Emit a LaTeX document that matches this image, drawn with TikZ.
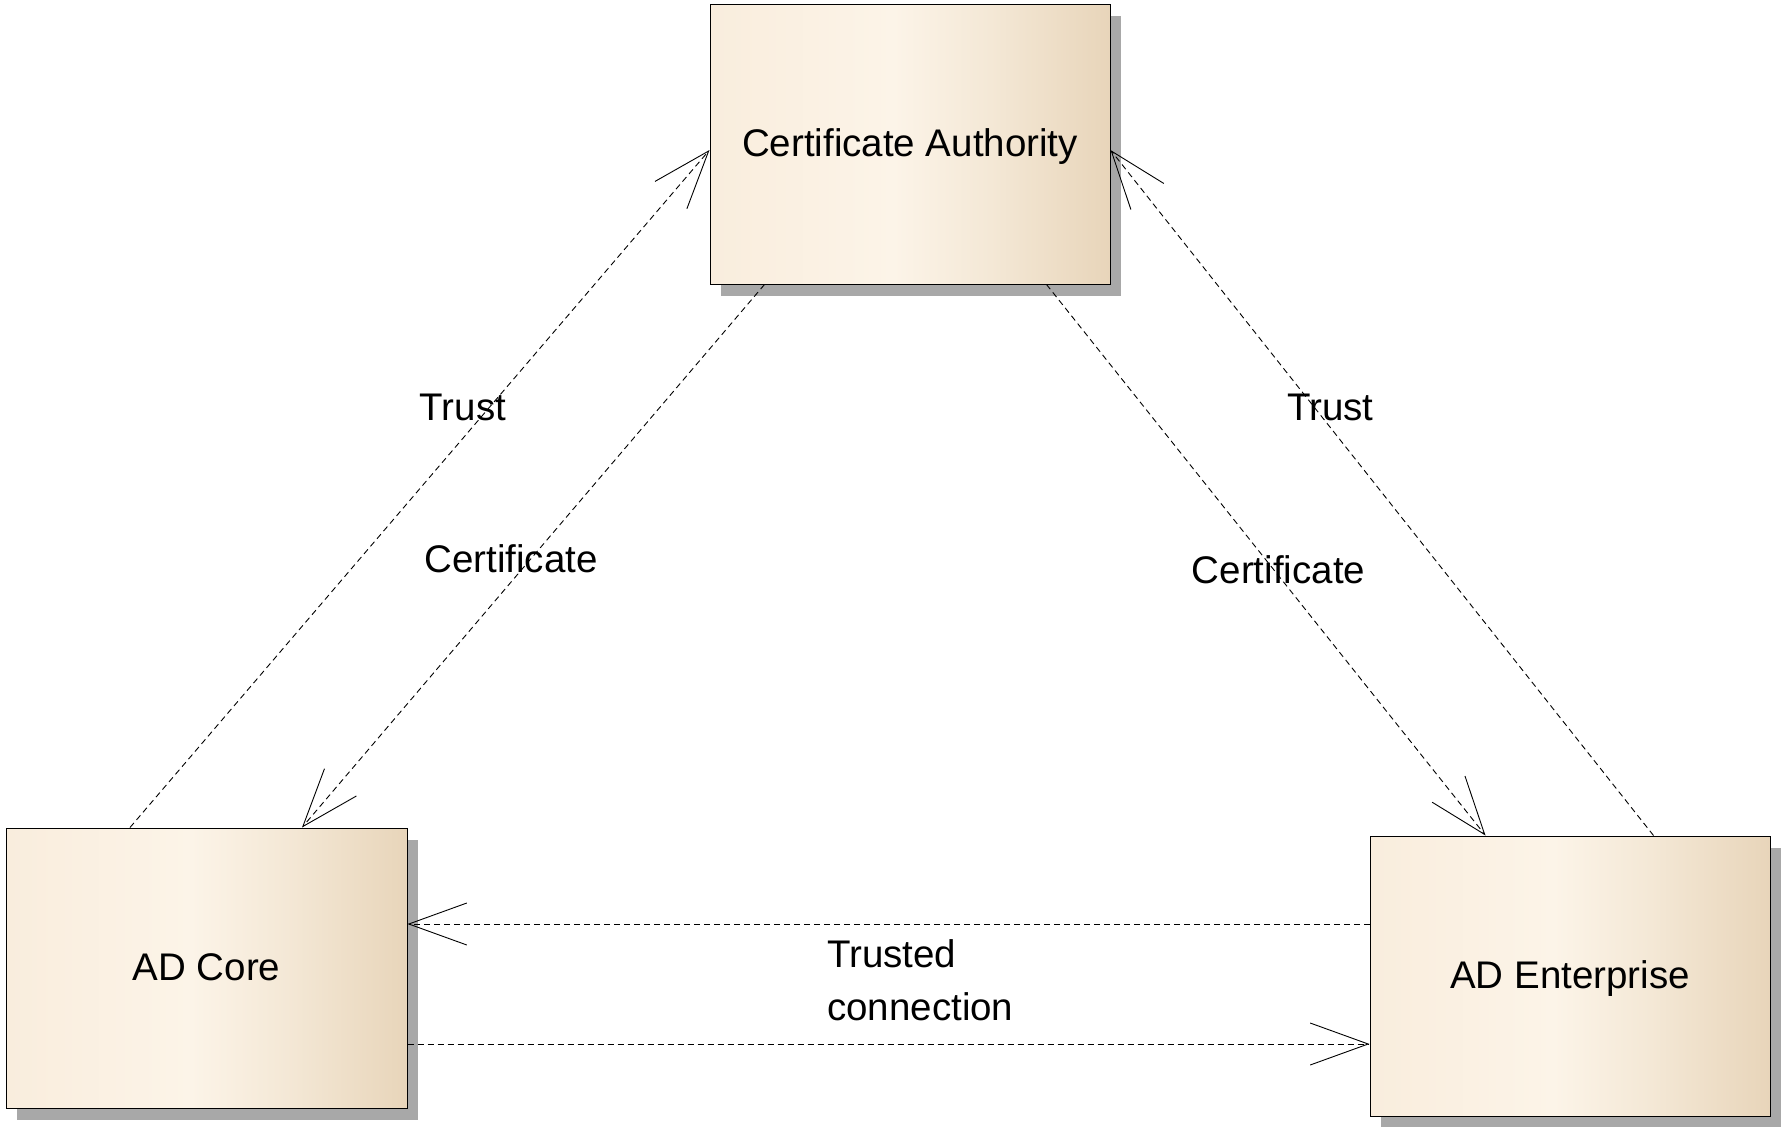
\documentclass[tikz,border=0pt]{standalone}
\usepackage{fontspec}
\setmainfont{Liberation Sans}
\usetikzlibrary{arrows.meta,shadows}
\definecolor{shadowgray}{RGB}{168,168,168}
\definecolor{bxa}{RGB}{249,237,221}
\definecolor{bxb}{RGB}{252,244,232}
\definecolor{bxc}{RGB}{244,232,214}
\definecolor{bxd}{RGB}{232,213,186}
\pgfdeclarehorizontalshading{boxshade}{100bp}{color(0bp)=(bxa); color(25bp)=(bxa); color(48bp)=(bxb); color(60bp)=(bxc); color(75bp)=(bxd); color(100bp)=(bxd)}
\begin{document}
\begin{tikzpicture}[x=1pt,y=-1pt,
  entity/.style={draw=black, line width=1pt, shade, shading=boxshade,
    inner sep=0pt, minimum width=400pt, minimum height=280pt,
    font=\fontsize{38.5}{45}\selectfont, text height=27pt, text depth=3pt,
    drop shadow={shadow xshift=11pt, shadow yshift=-12pt, fill=shadowgray, opacity=1}},
  conn/.style={draw=black, line width=0.9pt, dash pattern=on 6pt off 4pt,
    -{Straight Barb[length=58pt, width=42pt, line width=0.9pt]}},
  lbl/.style={font=\fontsize{38.5}{53}\selectfont, inner sep=0pt}]
\fill[white] (0,0) rectangle (1783,1127);
\useasboundingbox (0,0) rectangle (1783,1127);
\node[entity] (ca) at (910,144) {Certificate Authority};
\node[entity, minimum width=401pt] (core) at (206.5,968) {AD Core};
\node[entity] (ent) at (1570,976) {AD Enterprise};
% connectors
\draw[conn] ([xshift=124.5pt]core.north west) -- ([yshift=-6pt]ca.west);
\draw[conn] ([xshift=55pt]ca.south west) -- ([xshift=296.5pt]core.north west);
\draw[conn] ([xshift=-64pt]ca.south east) -- ([xshift=116pt]ent.north west);
\draw[conn] ([xshift=284pt]ent.north west) -- ([yshift=-6pt]ca.east);
\draw[conn] ([yshift=52pt]ent.west) -- ([yshift=44pt]core.east);
\draw[conn] ([yshift=-76pt]core.east) -- ([yshift=-68pt]ent.west);
% labels
\node[lbl, anchor=base] (t1) at (463,420) {Trust};
\node[lbl, anchor=base] (c1) at (511,572) {Certificate};
\node[lbl, anchor=base] (t2) at (1330.5,420) {Trust};
\node[lbl, anchor=base] (c2) at (1278.5,583) {Certificate};
\node[lbl, anchor=base west, align=left] (tc) at (827,1020) {Trusted\\connection};
\end{tikzpicture}
\end{document}
